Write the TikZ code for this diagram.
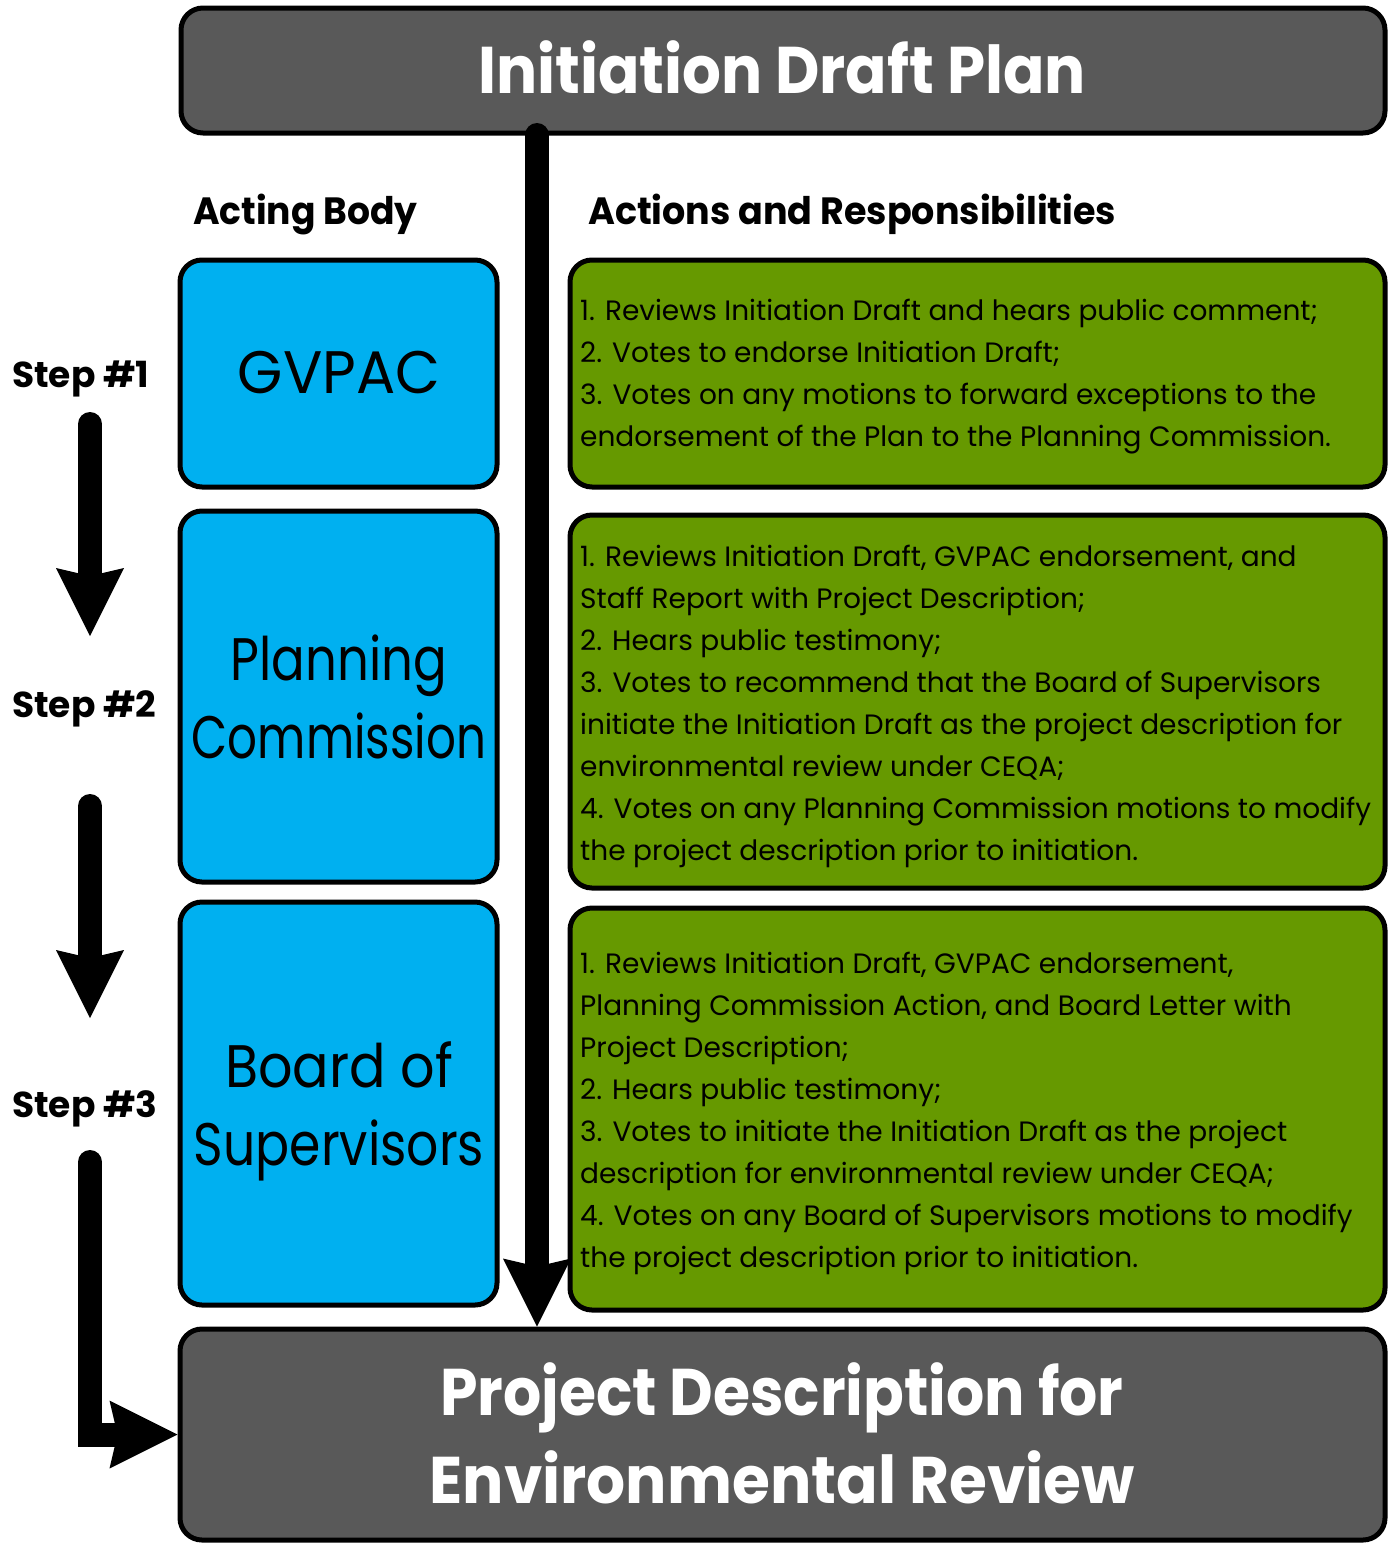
\documentclass[tikz,border=0pt]{standalone}
\usepackage{fontspec}
\setmainfont{Poppins}
\usetikzlibrary{arrows.meta}
\definecolor{boxgray}{HTML}{595959}
\definecolor{boxblue}{HTML}{00B0F0}
\definecolor{boxgreen}{HTML}{669900}
\newcommand\stretched[2]{{\fontspec{Poppins}[FakeStretch=#1]#2}}
\newcommand\mleft[2]{\vtop{\baselineskip=#1\lineskiplimit=-200pt\lineskip=0pt\halign{##\hfil\cr#2\crcr}}}
\newcommand\mcenter[2]{\vtop{\baselineskip=#1\lineskiplimit=-200pt\lineskip=0pt\halign{\hfil##\hfil\cr#2\crcr}}}
\tikzset{
  box/.style={draw=black, line width=5pt, rounded corners=22pt, inner sep=0pt},
  graybox/.style={box, fill=boxgray},
  bluebox/.style={box, fill=boxblue, minimum width=317pt},
  greenbox/.style={box, fill=boxgreen, minimum width=815pt},
  flow/.style={line width=24pt, line cap=round, -{Stealth[length=68pt,width=68pt,inset=8pt,line width=0pt]}},
  headtext/.style={inner sep=0pt, font=\fontsize{38}{40}\selectfont\bfseries},
  steptext/.style={inner sep=0pt, font=\fontsize{36}{40}\selectfont\bfseries},
  bodytext/.style={inner sep=0pt, anchor=base, font=\fontsize{60}{70}\selectfont},
  greentext/.style={inner sep=0pt, anchor=base west, font=\fontsize{28}{42}\selectfont},
  bigtext/.style={inner sep=0pt, anchor=base, text=white, font=\fontsize{66}{80}\selectfont\bfseries},
}
\begin{document}
\begin{tikzpicture}[x=1pt,y=-1pt]
\useasboundingbox (0,0) rectangle (1392,1543);
% boxes
\node[graybox, minimum width=1204pt, minimum height=125pt] (top) at (783,70.5) {};
\node[graybox, minimum width=1205pt, minimum height=211pt] (bottom) at (782.5,1434.5) {};
\node[bluebox, minimum height=227pt] (gvpac) at (338.5,373.5) {};
\node[bluebox, minimum height=371pt] (pc) at (338.5,696.5) {};
\node[bluebox, minimum height=403pt] (bos) at (338.5,1103.5) {};
\node[greenbox, minimum height=227pt] (g1) at (977.5,373.5) {};
\node[greenbox, minimum height=373pt] (g2) at (977.5,701.5) {};
\node[greenbox, minimum height=402pt] (g3) at (977.5,1109) {};
% texts
\node[bigtext] (toptext) at (782,93) {\stretched{0.925}{Initiation Draft Plan}};
\node[bigtext] (bottomtext) at (782,1415) {\mcenter{88pt}{\stretched{0.91}{Project Description for}\cr \stretched{0.93}{Environmental Review}}};
\node[headtext, anchor=base west] (hbody) at (193,224) {\stretched{0.95}{Acting Body}};
\node[headtext, anchor=base west] (hact) at (588,224) {\stretched{0.96}{Actions and Responsibilities}};
\node[steptext, anchor=base west] (step1) at (12,387) {Step \#1};
\node[steptext, anchor=base west] (step2) at (12,717) {Step \#2};
\node[steptext, anchor=base west] (step3) at (12,1117) {Step \#3};
\node[bodytext] (gvpactext) at (339,393) {\stretched{0.97}{GVPAC}};
\node[bodytext] (pctext) at (339,680) {\mcenter{78pt}{\stretched{0.83}{Planning}\cr \stretched{0.78}{Commission}}};
\node[bodytext] (bostext) at (339,1087) {\mcenter{78pt}{\stretched{0.9}{Board of}\cr \stretched{0.84}{Supervisors}}};
\node[greentext] (g1text) at (580,320) {\mleft{42pt}{%
1. Reviews Initiation Draft and hears public comment;\cr
2. Votes to endorse Initiation Draft;\cr
3. Votes on any motions to forward exceptions to the\cr
endorsement of the Plan to the Planning Commission.}};
\node[greentext] (g2text) at (580,566) {\mleft{42pt}{%
1. Reviews Initiation Draft, GVPAC endorsement, and\cr
Staff Report with Project Description;\cr
2. Hears public testimony;\cr
3. Votes to recommend that the Board of Supervisors\cr
initiate the Initiation Draft as the project description for\cr
environmental review under CEQA;\cr
4. Votes on any Planning Commission motions to modify\cr
the project description prior to initiation.}};
\node[greentext] (g3text) at (580,973) {\mleft{42pt}{%
1. Reviews Initiation Draft, GVPAC endorsement,\cr
Planning Commission Action, and Board Letter with\cr
Project Description;\cr
2. Hears public testimony;\cr
3. Votes to initiate the Initiation Draft as the project\cr
description for environmental review under CEQA;\cr
4. Votes on any Board of Supervisors motions to modify\cr
the project description prior to initiation.}};
% connectors
\coordinate (vstart) at (537,135);
\draw[flow] (vstart) -- (bottom.north -| vstart);
\coordinate (s1a) at (90,424);
\coordinate (s1b) at (90,636);
\coordinate (s2a) at (90,806);
\coordinate (s2b) at (90,1018);
\coordinate (s3a) at (90,1162);
\draw[flow] (s1a) -- (s1b);
\draw[flow] (s2a) -- (s2b);
\draw[flow] (s3a) |- (bottom.west);
\end{tikzpicture}
\end{document}
